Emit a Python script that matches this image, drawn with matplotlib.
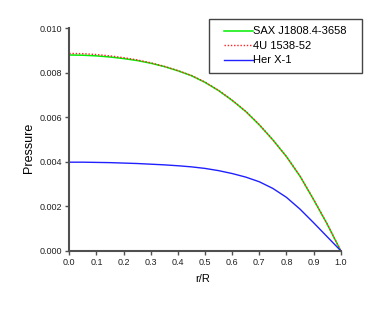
import matplotlib
matplotlib.use("Agg")
import matplotlib.pyplot as plt
from matplotlib.patches import Rectangle
import numpy as np

r = [0.0, 0.05, 0.1, 0.15, 0.2, 0.25, 0.3, 0.35, 0.4, 0.45, 0.5,
     0.55, 0.6, 0.65, 0.7, 0.75, 0.8, 0.85, 0.9, 0.95, 1.0]
sax = [0.00880, 0.00879, 0.00876, 0.00871, 0.00864, 0.00855, 0.00843, 0.00828,
       0.00809, 0.00787, 0.00757, 0.00720, 0.00676, 0.00626, 0.00566, 0.00498,
       0.00423, 0.00335, 0.00230, 0.00120, 0.0]
u1538 = [0.00887, 0.00886, 0.00882, 0.00876, 0.00868, 0.00858, 0.00845, 0.00829,
         0.00810, 0.00788, 0.00758, 0.00721, 0.00677, 0.00627, 0.00567, 0.00499,
         0.00424, 0.00336, 0.00231, 0.00121, 0.0]
her = [0.00398, 0.00398, 0.00397, 0.00396, 0.00394, 0.00392, 0.00389, 0.00386,
       0.00382, 0.00377, 0.00370, 0.00360, 0.00347, 0.00331, 0.00310, 0.00280,
       0.00240, 0.00187, 0.00126, 0.00063, 0.0]
labels = ["SAX J1808.4-3658", "4U 1538-52", "Her X-1"]

plt.rcParams['font.family'] = ['Liberation Sans', 'DejaVu Sans']
W, H = 382, 310
fig = plt.figure(figsize=(W / 100, H / 100), dpi=100)
ax = fig.add_axes([69.3 / W, 1 - 250.7 / H, 271.4 / W, 222.4 / H])
gray = '#505050'
ax.plot(r, sax, color='#00ee00', lw=1.1, label=labels[0])
ax.plot(r, u1538, color='#ff2020', lw=1.0, ls=(0, (1, 1.3)), label=labels[1])
ax.plot(r, her, color='#2020ff', lw=1.0, label=labels[2])
ax.set_xlim(0, 1.0)
ax.set_ylim(0, 0.010)
ax.set_xticks(np.arange(0, 1.01, 0.1))
ax.set_yticks(np.arange(0, 0.0101, 0.002))
ax.xaxis.set_major_formatter(matplotlib.ticker.FormatStrFormatter('%.1f'))
ax.yaxis.set_major_formatter(matplotlib.ticker.FormatStrFormatter('%.3f'))
for s in ['top', 'right']:
    ax.spines[s].set_visible(False)
for s in ['left', 'bottom']:
    ax.spines[s].set_color(gray)
    ax.spines[s].set_linewidth(1.5)
ax.tick_params(direction='out', length=3, width=1.0, color=gray, labelsize=6.5,
               labelcolor='#222222', pad=2)
ax.set_xlabel('r/R', fontsize=8)
ax.set_ylabel('Pressure', fontsize=9)
ax.xaxis.set_label_coords(0.491, -0.105)
ax.yaxis.set_label_coords(-0.150, 0.462)
ax.yaxis.label.set_va('center')

leg = fig.legend(loc='upper left', bbox_to_anchor=(224 / W, 1 - 26.5 / H), fontsize=8,
                 handlelength=2.6, handletextpad=0.0, borderpad=0.0,
                 labelspacing=0.4, frameon=False, borderaxespad=0)
fig.add_artist(Rectangle((209 / W, 1 - 72.7 / H), (362 - 209) / W, (72.7 - 19.3) / H,
                         transform=fig.transFigure, fill=False,
                         edgecolor='#444444', linewidth=1.0))
fig.savefig('out.png', dpi=100)
